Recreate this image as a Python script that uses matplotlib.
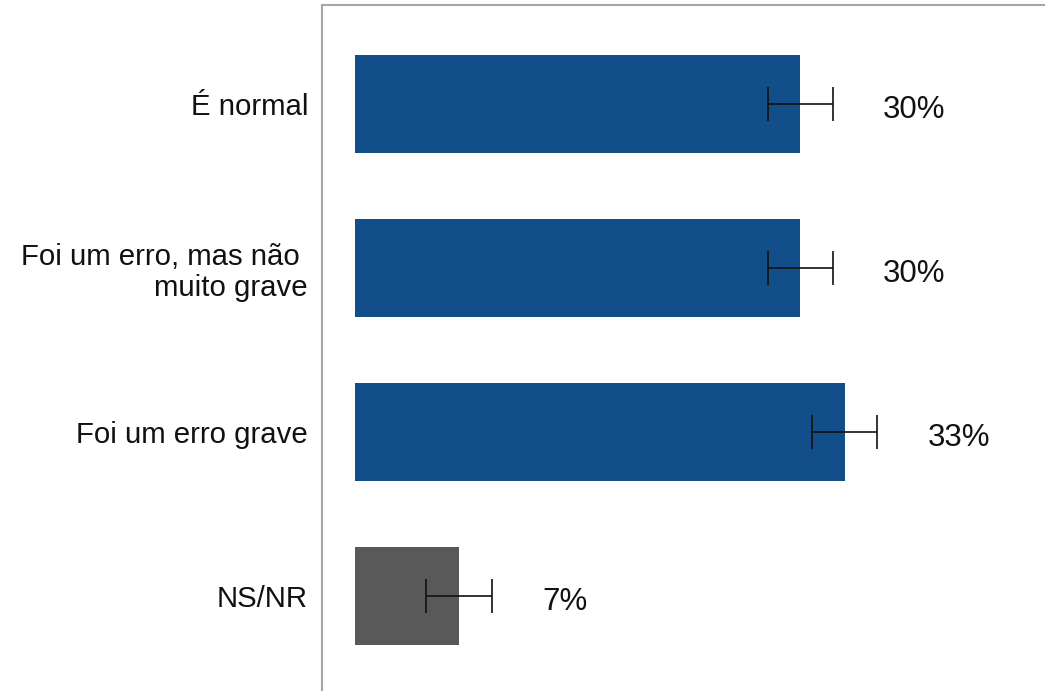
import matplotlib
matplotlib.use("Agg")
import matplotlib.pyplot as plt

categories = ["É normal", "Foi um erro, mas não \nmuito grave", "Foi um erro grave", "NS/NR"]
values = [30, 30, 33, 7]
errors = [2.2, 2.2, 2.2, 2.2]
labels = ["30%", "30%", "33%", "7%"]
colors = ["#114e8a", "#114e8a", "#114e8a", "#595959"]

plt.rcParams['font.family'] = ['Liberation Sans', 'DejaVu Sans']

fig = plt.figure(figsize=(10.45, 6.91), dpi=100)
ax = fig.add_axes([322/1045, 0, 1 - 322/1045, 1 - 5/691])

y = list(range(len(categories)))
ax.barh(y, values, height=0.6, color=colors)
ax.errorbar(values, y, xerr=errors, fmt='none', ecolor='#111111', elinewidth=1.2, capsize=12, capthick=1.2)
for yi, v, lab in zip(y, values, labels):
    ax.text(v + 5.6, yi + 0.035, lab, va='center', ha='left', fontsize=22.5, color='#111111')

ax.set_xlim(-2.23, 46.5)
ax.set_ylim(3.58, -0.604)
ax.set_yticks(y)
ax.set_yticklabels(categories, fontsize=21.2, color='#111111', ha='right', multialignment='right',
                   linespacing=1.15)
ax.tick_params(axis='y', length=0, pad=10)
ax.set_xticks([])
for s in ['right', 'bottom']:
    ax.spines[s].set_visible(False)
for s in ['left', 'top']:
    ax.spines[s].set_color('#a6a6a6')
    ax.spines[s].set_linewidth(1.5)

fig.savefig("out.png", dpi=100)
